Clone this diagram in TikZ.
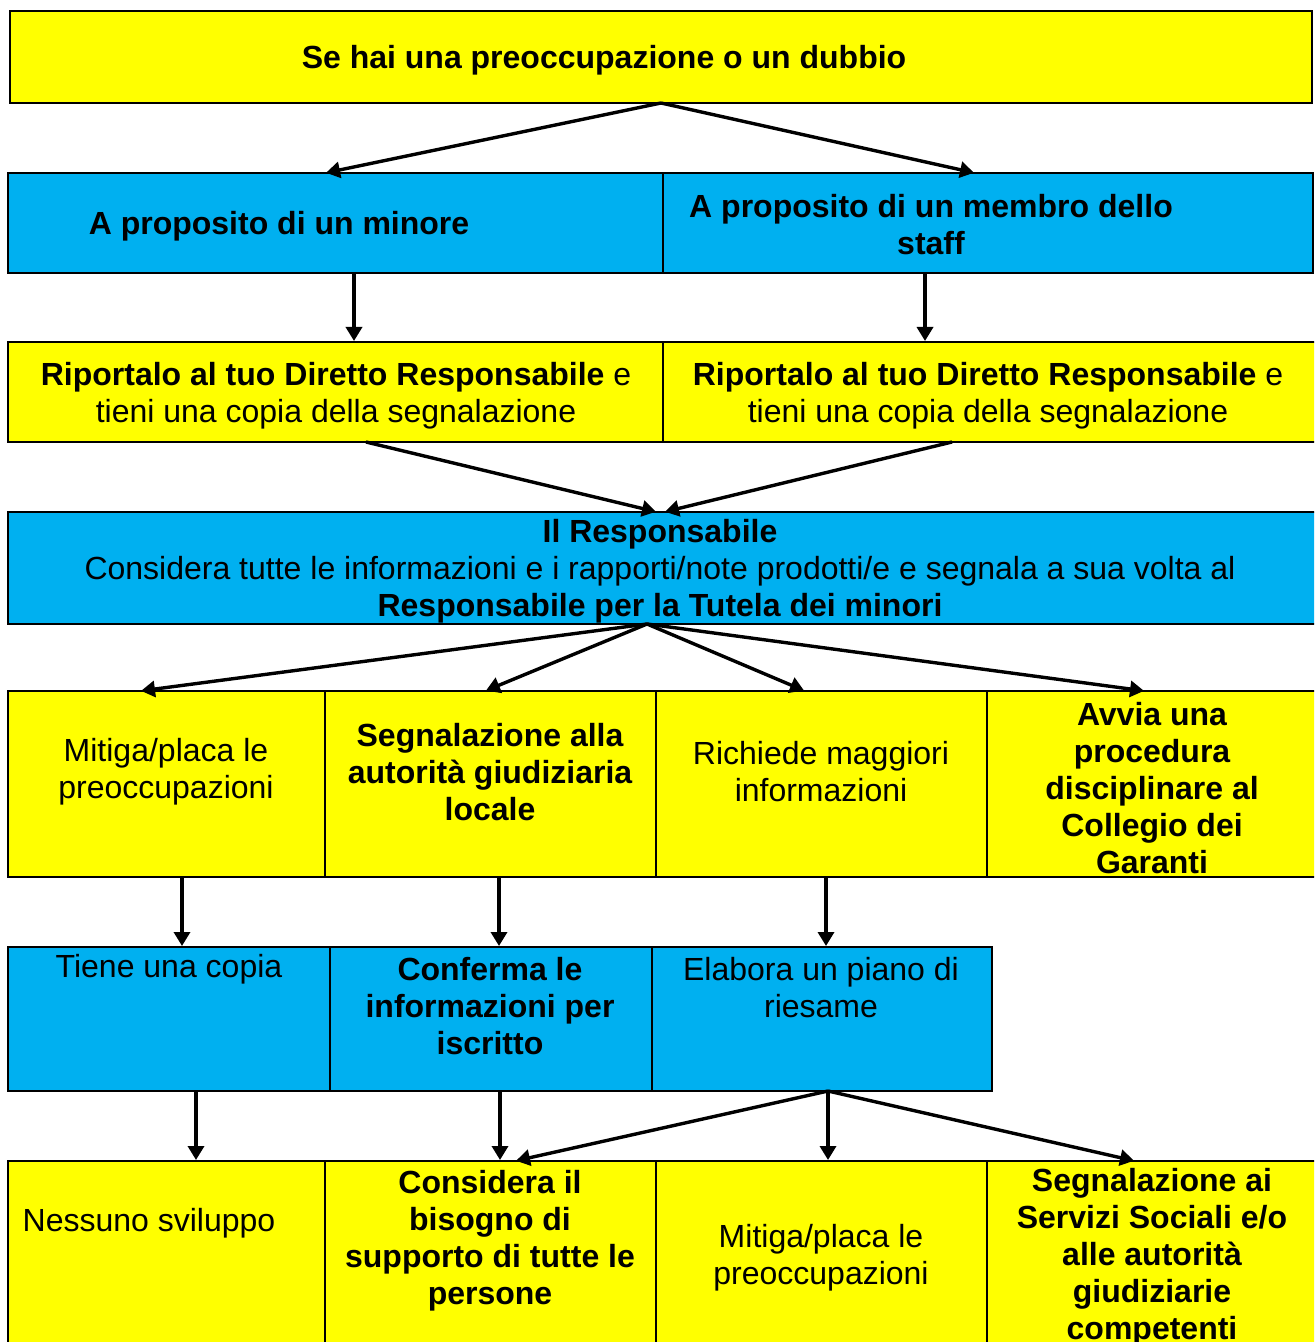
\documentclass[tikz,border=0pt]{standalone}
\usepackage{fontspec}
\setmainfont{Liberation Sans}
\usetikzlibrary{arrows.meta,fit}
\definecolor{ylw}{HTML}{FFFF00}
\definecolor{blu}{HTML}{00B0F0}
\tikzset{
  cell/.style={draw=black, line width=1pt, inner sep=0pt, outer sep=0pt},
  ycell/.style={cell, fill=ylw},
  bcell/.style={cell, fill=blu},
  txt/.style={align=center, inner sep=0pt, font=\fontsize{16}{18.5}\selectfont},
  btxt/.style={txt, font=\fontsize{16}{18.5}\selectfont\bfseries},
  arr/.style={-{Triangle[length=7pt,width=8pt]}, line width=1.7pt, shorten >=0.5pt}
}
\begin{document}
\begin{tikzpicture}[x=0.5pt,y=-0.5pt]
\useasboundingbox (0,0) rectangle (1314,1342);
\clip (0,0) rectangle (1314,1342);
\fill[white] (0,0) rectangle (1314,1342);
% row 1
\node[ycell, fit={(10,11) (1312,103)}] (top) {};
% row 2
\node[bcell, fit={(8,173) (663,273)}] (r2l) {};
\node[bcell, fit={(663,173) (1313,273)}] (r2r) {};
% row 3
\node[ycell, fit={(8,342) (663,442)}] (r3l) {};
\node[ycell, fit={(663,342) (1330,442)}] (r3r) {};
% row 4
\node[bcell, fit={(8,512) (1330,624)}] (resp) {};
% row 5
\node[ycell, fit={(8,691) (325,877)}] (r5a) {};
\node[ycell, fit={(325,691) (656,877)}] (r5b) {};
\node[ycell, fit={(656,691) (987,877)}] (r5c) {};
\node[ycell, fit={(987,691) (1330,877)}] (r5d) {};
% row 6
\node[bcell, fit={(8,947) (330,1091)}] (r6a) {};
\node[bcell, fit={(330,947) (652,1091)}] (r6b) {};
\node[bcell, fit={(652,947) (992,1091)}] (r6c) {};
% row 7
\node[ycell, fit={(8,1161) (325,1380)}] (r7a) {};
\node[ycell, fit={(325,1161) (656,1380)}] (r7b) {};
\node[ycell, fit={(656,1161) (987,1380)}] (r7c) {};
\node[ycell, fit={(987,1161) (1330,1380)}] (r7d) {};

% texts
\node[btxt] (t1) at (604,60) {Se hai una preoccupazione o un dubbio};
\node[btxt] (t2l) at (279,226) {A proposito di un minore};
\node[btxt] (t2r) at (931,225) {A proposito di un membro dello\\staff};
\node[txt] (t3l) at (336,396) {\textbf{Riportalo al tuo Diretto Responsabile} e\\tieni una copia della segnalazione};
\node[txt] (t3r) at (988,396) {\textbf{Riportalo al tuo Diretto Responsabile} e\\tieni una copia della segnalazione};
\node[txt] (t4) at (660,571) {\textbf{Il Responsabile}\\Considera tutte le informazioni e i rapporti/note prodotti/e e segnala a sua volta al\\\textbf{Responsabile per la Tutela dei minori}};
\node[txt] (t5a) at (166,772) {Mitiga/placa le\\preoccupazioni};
\node[btxt] (t5b) at (490,772) {Segnalazione alla\\autorità giudiziaria\\locale};
\node[txt] (t5c) at (821,772) {Richiede maggiori\\informazioni};
\node[btxt] (t5d) at (1152,788) {Avvia una\\procedura\\disciplinare al\\Collegio dei\\Garanti};
\node[txt] (t6a) at (169,969) {Tiene una copia};
\node[btxt] (t6b) at (490,1006) {Conferma le\\informazioni per\\iscritto};
\node[txt] (t6c) at (821,988) {Elabora un piano di\\riesame};
\node[txt] (t7a) at (149,1223) {Nessuno sviluppo};
\node[btxt] (t7b) at (490,1241) {Considera il\\bisogno di\\supporto di tutte le\\persone};
\node[txt] (t7c) at (821,1258) {Mitiga/placa le\\preoccupazioni};
\node[btxt] (t7d) at (1152,1257) {Segnalazione ai\\Servizi Sociali e/o\\alle autorità\\giudiziarie\\competenti};

% x positions of arrow ends
\coordinate (x325) at (325,0);
\coordinate (x975) at (975,0);
\coordinate (x354) at (354,0);
\coordinate (x925) at (925,0);
\coordinate (x366) at (366,0);
\coordinate (x952) at (952,0);
\coordinate (x657) at (657,0);
\coordinate (x664) at (664,0);
\coordinate (x647) at (647,0);
\coordinate (x140) at (140,0);
\coordinate (x485) at (485,0);
\coordinate (x805) at (805,0);
\coordinate (x1145) at (1145,0);
\coordinate (x182) at (182,0);
\coordinate (x499) at (499,0);
\coordinate (x826) at (826,0);
\coordinate (x196) at (196,0);
\coordinate (x500) at (500,0);
\coordinate (x828) at (828,0);
\coordinate (x515) at (515,0);
\coordinate (x1135) at (1135,0);

% arrows
\draw[arr] (top.south) -- (r2l.north -| x325);
\draw[arr] (top.south) -- (r2r.north -| x975);
\draw[arr] (r2l.south -| x354) -- (r3l.north -| x354);
\draw[arr] (r2r.south -| x925) -- (r3r.north -| x925);
\draw[arr] (r3l.south -| x366) -- (resp.north -| x657);
\draw[arr] (r3r.south -| x952) -- (resp.north -| x664);
\draw[arr] (resp.south -| x647) -- (r5a.north -| x140);
\draw[arr] (resp.south -| x647) -- (r5b.north -| x485);
\draw[arr] (resp.south -| x647) -- (r5c.north -| x805);
\draw[arr] (resp.south -| x647) -- (r5d.north -| x1145);
\draw[arr] (r5a.south -| x182) -- (r6a.north -| x182);
\draw[arr] (r5b.south -| x499) -- (r6b.north -| x499);
\draw[arr] (r5c.south -| x826) -- (r6c.north -| x826);
\draw[arr] (r6a.south -| x196) -- (r7a.north -| x196);
\draw[arr] (r6b.south -| x500) -- (r7b.north -| x500);
\draw[arr] (r6c.south -| x828) -- (r7b.north -| x515);
\draw[arr] (r6c.south -| x828) -- (r7c.north -| x828);
\draw[arr] (r6c.south -| x828) -- (r7d.north -| x1135);
\end{tikzpicture}
\end{document}
